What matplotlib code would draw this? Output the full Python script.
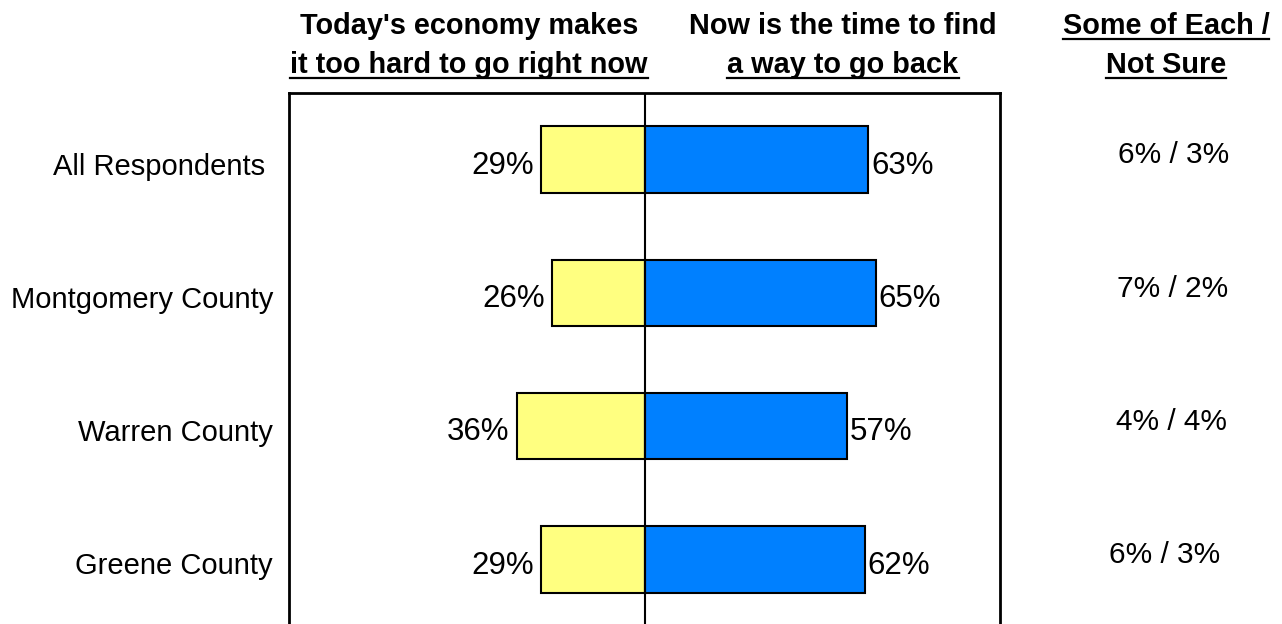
import matplotlib
matplotlib.use("Agg")
import matplotlib.pyplot as plt
from matplotlib.lines import Line2D
import matplotlib.transforms as mtransforms

plt.rcParams['font.family'] = ['Liberation Sans', 'DejaVu Sans']

categories = ["All Respondents ", "Montgomery County", "Warren County", "Greene County"]
too_hard = [29, 26, 36, 29]
go_back = [63, 65, 57, 62]
some_each = [6, 7, 4, 6]
not_sure = [3, 2, 4, 3]

W, H = 1282, 624
fig = plt.figure(figsize=(W / 100, H / 100), dpi=100)

def fx(x):
    return x / W

def fy(y):
    return 1 - y / H

ax = fig.add_axes([fx(289), fy(626), fx(1000) - fx(289), fy(93) - fy(626)])

ypos = list(range(len(categories)))
ax.barh(ypos, [-v for v in too_hard], height=0.5, color="#FFFF80",
        edgecolor="black", linewidth=1.5, zorder=2)
ax.barh(ypos, go_back, height=0.5, color="#0080FF",
        edgecolor="black", linewidth=1.5, zorder=2)
ax.axvline(0, color="black", linewidth=1.5, zorder=3)

ax.set_xlim(-100, 100)
ax.set_ylim(3.5, -0.5)
ax.set_xticks([])
ax.set_yticks(ypos)
ax.set_yticklabels(categories, fontsize=21.0)
ax.tick_params(axis='y', length=0, pad=11.5)
for lab in ax.get_yticklabels():
    lab.set_transform(lab.get_transform() + mtransforms.ScaledTranslation(0, -4 / 100, fig.dpi_scale_trans))
for s in ax.spines.values():
    s.set_linewidth(2)
    s.set_color("black")

for i, (a, b) in enumerate(zip(too_hard, go_back)):
    ax.annotate(f"{a}%", xy=(-a, i), xytext=(-5, -4.5), textcoords="offset points",
                ha="right", va="center", fontsize=22.5)
    ax.annotate(f"{b}%", xy=(b, i), xytext=(2, -4.5), textcoords="offset points",
                ha="left", va="center", fontsize=22.5)

trans = mtransforms.blended_transform_factory(fig.transFigure, ax.transData)
col_x = [1174, 1173, 1172, 1165]
for i, (s, n) in enumerate(zip(some_each, not_sure)):
    ax.annotate(f"{s}% / {n}%", xy=(fx(col_x[i]), i), xycoords=trans,
                xytext=(0, 3), textcoords="offset points",
                ha="center", va="center", fontsize=21.5, annotation_clip=False)

headers = [
    (469, ["Today's economy makes", "it too hard to go right now"], [False, True]),
    (843, ["Now is the time to find", "a way to go back"], [False, True]),
    (1166, ["Some of Each /", "Not Sure"], [True, True]),
]
baselines = [34, 73]
texts = []
for cx, lines, unders in headers:
    for line, ub, bl in zip(lines, unders, baselines):
        t = fig.text(fx(cx), fy(bl), line, ha="center", va="baseline",
                     fontsize=20.8, fontweight="bold")
        texts.append((t, ub, bl))

fig.canvas.draw()
renderer = fig.canvas.get_renderer()
for t, ub, bl in texts:
    if ub:
        bb = t.get_window_extent(renderer)
        y = fy(bl + 5)
        fig.add_artist(Line2D([bb.x0 / W, bb.x1 / W], [y, y], transform=fig.transFigure,
                              color="black", linewidth=1.6))

fig.savefig("out.png", dpi=100)
